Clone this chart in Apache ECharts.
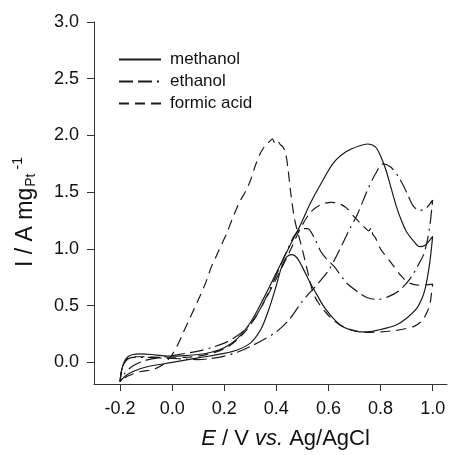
<!DOCTYPE html>
<html>
<head>
    <meta http-equiv="Content-Type" content="text/html; charset=utf-8" />
    <title>CV methanol ethanol formic acid</title>
    <script src="https://cdn.jsdelivr.net/npm/echarts@6/dist/echarts.min.js"></script>
    <style>
        html, body { margin: 0; padding: 0; background: #fff; }
        #div1 { width: 451px; height: 455px; }
    </style>
</head>
<body>
    <div id="div1"></div>
    <script type="text/javascript">
        var seriesNames = ['methanol', 'ethanol', 'formic acid'];
        var xTicks = [-0.2, 0.0, 0.2, 0.4, 0.6, 0.8, 1.0];
        var yTicks = [0.0, 0.5, 1.0, 1.5, 2.0, 2.5, 3.0];

        // [E (V), I (A/mg)] - forward scan, then reverse scan
        var methanolFwd = [[-0.2,-0.17],[-0.195,-0.08],[-0.185,0.0],[-0.17,0.05],[-0.15,0.07],[-0.12,0.075],[-0.08,0.07],[-0.04,0.06],[0.0,0.055],[0.05,0.06],[0.1,0.07],[0.15,0.09],[0.2,0.13],[0.25,0.21],[0.3,0.35],[0.35,0.56],[0.4,0.79],[0.45,1.02],[0.49,1.2],[0.53,1.4],[0.57,1.57],[0.62,1.76],[0.67,1.86],[0.72,1.91],[0.75,1.925],[0.78,1.9],[0.8,1.82],[0.82,1.7],[0.84,1.54],[0.86,1.38],[0.88,1.25],[0.9,1.15],[0.93,1.06],[0.95,1.02],[0.97,1.03],[0.99,1.08],[1.0,1.11]];
        var methanolRev = [[0.995,1.0],[0.99,0.9],[0.98,0.75],[0.97,0.64],[0.96,0.57],[0.94,0.48],[0.9,0.39],[0.86,0.33],[0.8,0.29],[0.75,0.27],[0.72,0.27],[0.68,0.29],[0.645,0.33],[0.61,0.41],[0.58,0.5],[0.55,0.62],[0.53,0.7],[0.5,0.84],[0.48,0.92],[0.46,0.95],[0.44,0.93],[0.42,0.84],[0.4,0.68],[0.37,0.46],[0.34,0.29],[0.3,0.17],[0.25,0.11],[0.2,0.08],[0.1,0.04],[0.0,0.0],[-0.1,-0.04],[-0.15,-0.08],[-0.18,-0.12],[-0.2,-0.17]];

        var ethanolFwd = [[-0.2,-0.17],[-0.195,-0.08],[-0.185,-0.01],[-0.17,0.03],[-0.15,0.045],[-0.1,0.045],[-0.05,0.04],[0.0,0.035],[0.05,0.03],[0.1,0.025],[0.15,0.035],[0.2,0.055],[0.25,0.09],[0.3,0.14],[0.35,0.2],[0.4,0.27],[0.45,0.38],[0.5,0.54],[0.55,0.67],[0.6,0.81],[0.64,0.98],[0.68,1.17],[0.71,1.3],[0.75,1.52],[0.78,1.66],[0.81,1.75],[0.84,1.72],[0.87,1.63],[0.9,1.5],[0.925,1.38],[0.95,1.34],[0.975,1.36],[1.0,1.43]];
        var ethanolRev = [[0.995,1.32],[0.99,1.22],[0.98,1.08],[0.965,0.95],[0.94,0.84],[0.92,0.76],[0.9,0.7],[0.87,0.63],[0.83,0.58],[0.79,0.555],[0.75,0.57],[0.72,0.61],[0.67,0.7],[0.62,0.85],[0.59,0.92],[0.57,0.98],[0.545,1.1],[0.52,1.18],[0.5,1.18],[0.47,1.12],[0.44,0.98],[0.4,0.77],[0.36,0.57],[0.32,0.4],[0.28,0.29],[0.24,0.22],[0.2,0.17],[0.15,0.13],[0.1,0.1],[0.0,0.06],[-0.1,0.02],[-0.15,-0.03],[-0.18,-0.09],[-0.2,-0.17]];

        var formicFwd = [[-0.2,-0.17],[-0.195,-0.08],[-0.185,-0.01],[-0.17,0.035],[-0.15,0.05],[-0.1,0.05],[-0.05,0.045],[0.0,0.04],[0.05,0.045],[0.1,0.055],[0.15,0.08],[0.2,0.12],[0.25,0.2],[0.3,0.33],[0.35,0.52],[0.4,0.74],[0.45,0.97],[0.49,1.17],[0.53,1.32],[0.57,1.39],[0.61,1.41],[0.64,1.4],[0.67,1.36],[0.7,1.28],[0.73,1.21],[0.755,1.16],[0.765,1.19],[0.77,1.13],[0.78,1.1],[0.8,1.0],[0.84,0.88],[0.88,0.76],[0.91,0.7],[0.95,0.68],[1.0,0.69]];
        var formicRev = [[0.995,0.6],[0.99,0.52],[0.98,0.45],[0.96,0.37],[0.93,0.32],[0.9,0.3],[0.85,0.28],[0.8,0.27],[0.75,0.265],[0.7,0.28],[0.66,0.31],[0.62,0.37],[0.59,0.44],[0.56,0.53],[0.54,0.62],[0.51,0.9],[0.49,1.08],[0.47,1.26],[0.455,1.5],[0.445,1.7],[0.435,1.85],[0.425,1.9],[0.415,1.92],[0.405,1.95],[0.395,1.93],[0.385,1.97],[0.375,1.95],[0.36,1.92],[0.34,1.85],[0.32,1.74],[0.3,1.6],[0.28,1.5],[0.26,1.42],[0.25,1.37],[0.23,1.26],[0.21,1.14],[0.19,1.04],[0.17,0.94],[0.15,0.84],[0.13,0.71],[0.1,0.55],[0.07,0.4],[0.04,0.25],[0.02,0.15],[0.0,0.07],[-0.03,-0.01],[-0.07,-0.06],[-0.12,-0.08],[-0.17,-0.12],[-0.2,-0.17]];

        var myChart = echarts.init(document.getElementById('div1'), null, { renderer: 'canvas' });

        var font = 'Liberation Sans, Arial, Helvetica, sans-serif';
        var ink = '#1a1a1a';

        function cvSeries(name, pts, dash) {
            return {
                name: name,
                type: 'line',
                data: pts,
                symbol: 'none',
                showSymbol: false,
                smooth: 0.3,
                smoothMonotone: 'none',
                lineStyle: { color: ink, width: 1.2, type: dash },
                itemStyle: { color: ink }
            };
        }

        var option = {
            animation: false,
            backgroundColor: '#fff',
            grid: { left: 94, right: 4, top: 22, bottom: 70 },
            legend: {
                data: seriesNames,
                orient: 'vertical',
                left: 113,
                top: 46,
                itemWidth: 42,
                itemHeight: 14,
                itemGap: 5,
                itemStyle: { opacity: 0 },
                textStyle: { fontFamily: font, fontSize: 17, color: '#111', padding: [0, 0, 0, 4] }
            },
            xAxis: {
                type: 'value',
                min: -0.3,
                max: 1.055,
                name: '{i|E}{n| / V }{i|vs.}{n| Ag/AgCl}',
                nameLocation: 'middle',
                nameGap: 44,
                nameTextStyle: {
                    fontFamily: font, fontSize: 22, color: '#111', padding: [0, 0, 0, 30],
                    rich: {
                        i: { fontFamily: font, fontSize: 22, fontStyle: 'italic', color: '#111' },
                        n: { fontFamily: font, fontSize: 22, color: '#111' }
                    }
                },
                axisLine: { show: true, onZero: false, lineStyle: { color: '#333', width: 1 } },
                axisTick: { show: true, length: 7, customValues: xTicks, lineStyle: { color: '#333' } },
                axisLabel: {
                    customValues: xTicks,
                    margin: 16,
                    fontFamily: font, fontSize: 18, color: '#111',
                    formatter: function (v) { return v.toFixed(1); }
                },
                splitLine: { show: false }
            },
            yAxis: {
                type: 'value',
                min: -0.19,
                max: 3.0,
                name: '{n|I / A mg}{sub|Pt}{sup|-1}',
                nameLocation: 'middle',
                nameRotate: 90,
                nameGap: 54,
                nameTextStyle: {
                    fontFamily: font, fontSize: 23, color: '#111', padding: [0, 18, 0, 0],
                    rich: {
                        n: { fontFamily: font, fontSize: 23, color: '#111' },
                        sub: { fontFamily: font, fontSize: 14, color: '#111', padding: [11, 0, 0, 1] },
                        sup: { fontFamily: font, fontSize: 14, color: '#111', padding: [0, 0, 15, 4] }
                    }
                },
                axisLine: { show: true, onZero: false, lineStyle: { color: '#333', width: 1 } },
                axisTick: { show: true, length: 7, customValues: yTicks, lineStyle: { color: '#333' } },
                axisLabel: {
                    customValues: yTicks,
                    margin: 15,
                    fontFamily: font, fontSize: 18, color: '#111',
                    formatter: function (v) { return v.toFixed(1); }
                },
                splitLine: { show: false }
            },
            series: [
                cvSeries('methanol', methanolFwd.concat(methanolRev), 'solid'),
                cvSeries('ethanol', ethanolFwd.concat(ethanolRev), [14, 5, 14, 5, 2, 5]),
                cvSeries('formic acid', formicFwd.concat(formicRev), [10, 6])
            ]
        };
        myChart.setOption(option);
    </script>
</body>
</html>
